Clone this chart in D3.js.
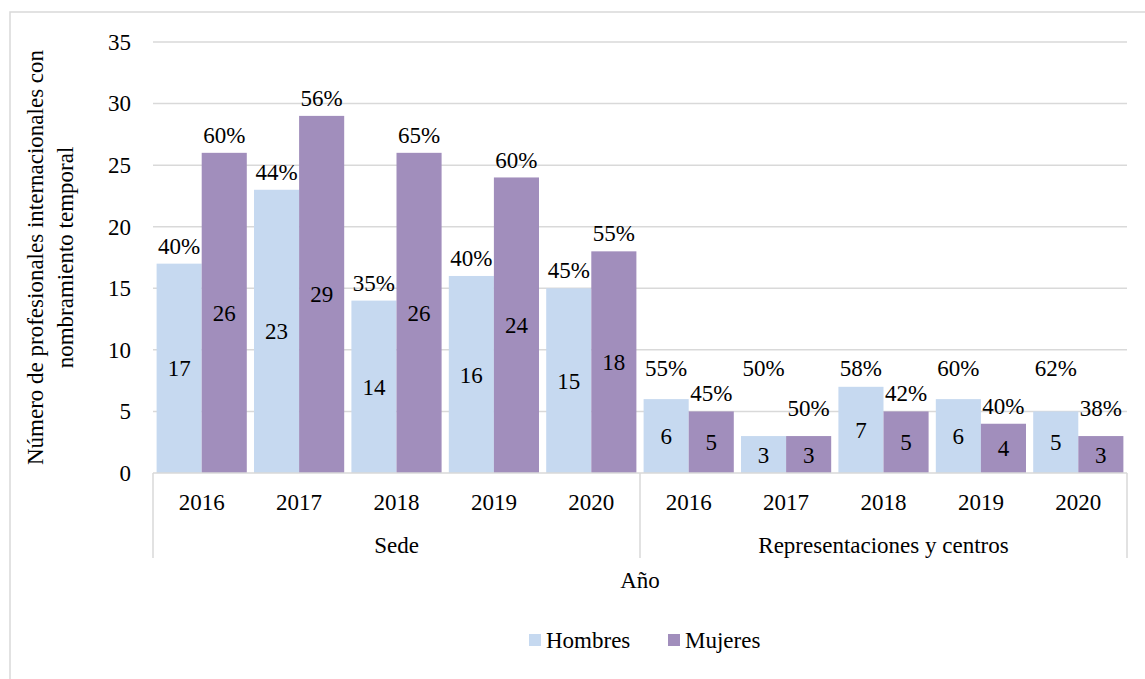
<!DOCTYPE html>
<html>
  <head>
    <meta charset="utf-8">
    <title>Profesionales internacionales con nombramiento temporal</title>
    <style>
      body { margin: 0; background: #fff; }
      svg text { font-family: "Liberation Serif", "Times New Roman", Tinos, "DejaVu Serif", serif; fill: #000; }
    </style>
  </head>
  <body>
    <div id="chart"></div>

    <script src="https://cdn.jsdelivr.net/npm/d3@7"></script>
    <script>
      // data
      const groups = ['Sede', 'Representaciones y centros'];
      const years = ['2016', '2017', '2018', '2019', '2020'];
      const series = ['Hombres', 'Mujeres'];
      const hombres = [17, 23, 14, 16, 15, 6, 3, 7, 6, 5];
      const mujeres = [26, 29, 26, 24, 18, 5, 3, 5, 4, 3];
      const pctHombres = ['40%', '44%', '35%', '40%', '45%', '55%', '50%', '58%', '60%', '62%'];
      const pctMujeres = ['60%', '56%', '65%', '60%', '55%', '45%', '50%', '42%', '40%', '38%'];
      const yTicks = [0, 5, 10, 15, 20, 25, 30, 35];

      const colors = {Hombres: '#c6d9f0', Mujeres: '#a18ebc'};
      const serif = '"Liberation Serif", "Times New Roman", Tinos, "DejaVu Serif", serif';
      const W = 1145, H = 679;
      const margin = {top: 42, right: 18, bottom: 206, left: 153};

      const svg = d3.select('#chart').append('svg')
        .attr('width', W)
        .attr('height', H)
        .attr('font-family', serif);

      // chart frame
      svg.append('rect')
        .attr('x', 10).attr('y', 12)
        .attr('width', W + 20).attr('height', H + 20)
        .attr('fill', 'none')
        .attr('stroke', '#d9d9d9')
        .attr('stroke-width', 1.5);

      // one row per category (group + year)
      const rows = [];
      groups.forEach((g, gi) => {
        years.forEach((yr, yi) => {
          const i = gi * years.length + yi;
          rows.push({
            key: g + '|' + yr, group: g, year: yr,
            values: [
              {s: 'Hombres', v: hombres[i], pct: pctHombres[i]},
              {s: 'Mujeres', v: mujeres[i], pct: pctMujeres[i]}
            ]
          });
        });
      });

      const x0 = d3.scaleBand()
        .domain(rows.map(d => d.key))
        .range([margin.left, W - margin.right]);

      const x1 = d3.scaleBand()
        .domain(series)
        .range([0, x0.bandwidth()])
        .paddingInner(0)
        .paddingOuter(0.08);

      const y = d3.scaleLinear()
        .domain([0, 35])
        .range([H - margin.bottom, margin.top]);

      // gridlines
      svg.append('g')
        .selectAll('line')
        .data(yTicks.filter(t => t > 0))
        .join('line')
        .attr('x1', margin.left).attr('x2', W - margin.right)
        .attr('y1', d => y(d)).attr('y2', d => y(d))
        .attr('stroke', '#d9d9d9')
        .attr('stroke-width', 1.5);

      // y axis labels
      const yAxis = svg.append('g')
        .attr('transform', `translate(${margin.left - 6},0)`)
        .call(d3.axisLeft(y).tickValues(yTicks).tickSize(0).tickPadding(16))
        .attr('font-family', serif);
      yAxis.select('.domain').remove();
      yAxis.selectAll('text')
        .style('font-size', '23px')
        .attr('fill', '#000');

      // bars
      const cat = svg.append('g').selectAll('g')
        .data(rows)
        .join('g')
        .attr('transform', d => `translate(${x0(d.key)},0)`);

      cat.selectAll('rect')
        .data(d => d.values)
        .join('rect')
        .attr('x', d => x1(d.s))
        .attr('y', d => y(d.v))
        .attr('width', x1.bandwidth())
        .attr('height', d => y(0) - y(d.v))
        .attr('fill', d => colors[d.s]);

      // value labels inside the bars
      cat.selectAll('text.val')
        .data(d => d.values)
        .join('text')
        .attr('class', 'val')
        .attr('x', d => x1(d.s) + x1.bandwidth() / 2)
        .attr('y', d => (y(d.v) + y(0)) / 2)
        .attr('dy', '0.35em')
        .attr('text-anchor', 'middle')
        .style('font-size', '23px')
        .text(d => d.v);

      // share labels above the bars (kept clear of the short bars)
      const lift = 18;
      const lowest = {Hombres: 8.5, Mujeres: 5.3};
      cat.selectAll('text.pct')
        .data(d => d.values)
        .join('text')
        .attr('class', 'pct')
        .attr('x', d => x1(d.s) + x1.bandwidth() / 2)
        .attr('y', d => Math.min(y(d.v) - lift, y(lowest[d.s])))
        .attr('dy', '0.35em')
        .attr('text-anchor', 'middle')
        .style('font-size', '23px')
        .text(d => d.pct);

      // category axis: baseline, group dividers, labels
      const axisY = y(0);
      const axis = svg.append('g');
      axis.append('line')
        .attr('x1', margin.left).attr('x2', W - margin.right)
        .attr('y1', axisY).attr('y2', axisY)
        .attr('stroke', '#d9d9d9').attr('stroke-width', 1.5);

      const groupEdges = groups.map(g => x0(g + '|' + years[0]))
        .concat([W - margin.right]);
      axis.selectAll('line.div')
        .data(groupEdges)
        .join('line')
        .attr('class', 'div')
        .attr('x1', d => d).attr('x2', d => d)
        .attr('y1', axisY).attr('y2', axisY + 85)
        .attr('stroke', '#d9d9d9').attr('stroke-width', 1.5);

      axis.selectAll('text.yr')
        .data(rows)
        .join('text')
        .attr('class', 'yr')
        .attr('x', d => x0(d.key) + x0.bandwidth() / 2)
        .attr('y', axisY + 29)
        .attr('dy', '0.35em')
        .attr('text-anchor', 'middle')
        .style('font-size', '23px')
        .text(d => d.year);

      axis.selectAll('text.grp')
        .data(groups)
        .join('text')
        .attr('class', 'grp')
        .attr('x', g => {
          const a = x0(g + '|' + years[0]);
          const b = x0(g + '|' + years[years.length - 1]) + x0.bandwidth();
          return (a + b) / 2;
        })
        .attr('y', axisY + 72)
        .attr('dy', '0.35em')
        .attr('text-anchor', 'middle')
        .style('font-size', '23px')
        .text(g => g);

      // axis titles
      svg.append('text')
        .attr('x', (margin.left + W - margin.right) / 2)
        .attr('y', 580)
        .attr('dy', '0.35em')
        .attr('text-anchor', 'middle')
        .style('font-size', '23px')
        .text('Año');

      const yTitle = svg.append('text')
        .attr('transform', `translate(35, ${(y(0) + y(35)) / 2}) rotate(-90)`)
        .attr('text-anchor', 'middle')
        .style('font-size', '23px');
      yTitle.append('tspan')
        .attr('x', 0).attr('dy', '0.35em')
        .text('Número de profesionales internacionales con');
      yTitle.append('tspan')
        .attr('x', 0).attr('dy', 30)
        .text('nombramiento temporal');

      // legend
      const legend = svg.append('g')
        .attr('transform', 'translate(529, 640)');
      const legendX = [0, 139];
      series.forEach((s, i) => {
        const item = legend.append('g')
          .attr('transform', `translate(${legendX[i]},0)`);
        item.append('rect')
          .attr('x', 0).attr('y', -6)
          .attr('width', 12).attr('height', 12)
          .attr('fill', colors[s]);
        item.append('text')
          .attr('x', 17).attr('y', 0)
          .attr('dy', '0.35em')
          .style('font-size', '23px')
          .text(s);
      });
    </script>
  </body>
</html>
